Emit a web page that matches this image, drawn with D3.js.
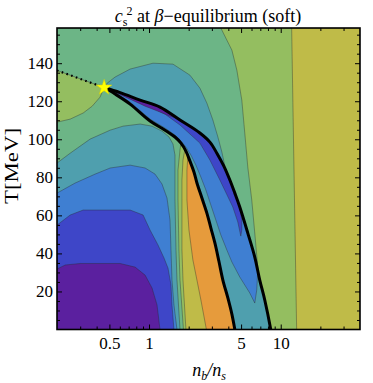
<!DOCTYPE html>
<meta charset="utf-8">
<style>
body { margin: 0; background: #fff; }
text { font-family: "Liberation Serif", "Times New Roman", serif; }
.band { stroke: #2b2b2b; stroke-opacity: 0.55; stroke-width: 0.7; stroke-linejoin: round; }
.domain { display: none; }
</style>
<svg width="373" height="383"></svg>
<script src="https://d3js.org/d3.v7.min.js"></script>
<script>

// colour of each c_s^2 level, lowest first
var levelColors = ["#5b209f", "#3e46c8", "#3f7fd2", "#4f9fae", "#6cb586", "#94be60", "#bfbb48", "#e69b3c"];

var xMajor = [0.5, 1, 5, 10];
var xMinor = [0.3, 0.4, 0.6, 0.7, 0.8, 0.9, 2, 3, 4, 6, 7, 8, 9, 20, 30];
var yMajor = [20, 40, 60, 80, 100, 120, 140];
var yMinor = [5, 10, 15, 25, 30, 35, 45, 50, 55, 65, 70, 75, 85, 90, 95, 105, 110, 115, 125, 130, 135, 145, 150, 155];

// [n_b/n_s, T]
var critPoint = [0.456, 127.2];
var dottedLine = [[0.2, 136.2], [0.456, 127.2]];
var line1 = [[0.456,127.2],[0.552,123.8],[0.718,118.5],[1.018,109.6],[1.322,104.8],[1.574,101.2],[1.748,98.0],[1.906,93.8],[2.045,88.5],[2.193,82.8],[2.311,77.0],[2.521,69.1],[2.749,61.2],[2.949,53.3],[3.162,45.5],[3.390,36.0],[3.636,26.0],[3.968,16.6],[4.256,8.1],[4.482,0]];
var line2 = [[0.456,127.2],[0.603,124.5],[0.855,120.6],[1.211,116.9],[1.718,110.1],[2.433,103.3],[2.898,98.5],[3.274,92.7],[3.700,85.9],[4.109,78.6],[4.482,71.7],[4.887,64.4],[5.623,50.7],[6.353,38.1],[6.930,26.0],[7.565,15.5],[8.400,0]];

// contour boundaries
var b45Right = [[3.51,158.5],[3.83,153.2],[4.256,146.9],[4.642,136.4],[5.064,120.6],[5.333,103.3],[5.623,85.4],[6.026,68.1],[6.353,50.7],[6.693,32.8],[6.930,26.0]];
var b56Right = [[12.11,158.5],[12.54,94.3],[13.21,0]];
var pocket5 = [[0.2,136.2],[0.456,127.2],[0.425,122.2],[0.370,117.4],[0.316,113.8],[0.252,110.6],[0.2,109.0]];
var b34Top = [[0.456,127.2],[0.481,129.5],[0.552,132.7],[0.718,136.9],[1.072,140.0],[1.520,139.5],[2.045,133.7],[2.433,126.9],[2.749,119.0],[3.054,110.1],[3.333,101.2],[3.573,93.3],[3.765,85.9]];
var b34 = [[0.2,87.5],[0.252,92.7],[0.357,100.1],[0.507,104.8],[0.635,106.9],[0.855,108.0],[1.054,106.9],[1.254,104.3],[1.418,101.2],[1.520,97.5],[1.574,91.7],[1.574,68.1],[1.602,41.8],[1.630,26.0],[1.718,0]];
var b23 = [[0.2,71.7],[0.275,77.0],[0.390,81.7],[0.507,84.9],[0.718,86.4],[0.933,84.9],[1.110,81.7],[1.254,76.5],[1.369,69.1],[1.443,57.5],[1.468,41.8],[1.494,26.0],[1.546,12.9],[1.630,0]];
var b12 = [[0.2,54.9],[0.252,60.2],[0.316,62.8],[0.718,62.8],[0.901,60.2],[1.018,52.3],[1.170,44.4],[1.299,37.6],[1.393,32.3],[1.468,23.4],[1.494,12.9],[1.546,0]];
var b01 = [[0.2,31.8],[0.231,33.9],[0.300,34.7],[0.603,34.7],[0.783,32.8],[0.933,28.6],[1.054,21.8],[1.150,12.9],[1.211,0]];
var b45Fan = [[1.748,98.0],[1.718,94.3],[1.659,83.8],[1.659,68.1],[1.687,41.8],[1.718,26.0],[1.825,0]];
var b56Fan = [[1.874,94.8],[1.810,89.1],[1.778,78.6],[1.778,68.1],[1.778,41.8],[1.810,26.0],[1.906,0]];
var b67Fan = [[1.975,91.7],[1.940,83.8],[1.940,68.1],[2.010,52.3],[2.154,36.5],[2.311,26.0],[2.477,15.5],[2.727,0]];
var wedgeBlueEdge = [[6.693,31.3],[6.577,20.8],[6.353,13.9],[5.821,19.2],[4.887,27.6],[4.256,35.5],[3.899,41.8],[3.510,49.7],[3.218,57.5],[2.949,65.4],[2.703,73.3],[2.477,80.1],[2.270,86.4],[2.080,91.7],[1.906,95.9],[1.748,99.1],[1.574,102.2],[1.322,105.9],[1.018,110.6],[0.718,119.5],[0.552,124.3]];
var wedgeIndigoEdge = [[5.064,57.5],[5.064,52.3],[4.974,49.1],[4.722,56.5],[4.326,64.4],[3.450,78.6],[2.898,89.1],[2.433,98.0],[1.718,107.5],[1.322,113.2],[0.933,118.5],[0.658,122.7],[0.507,125.9]];
var wedgePurple = [[0.525,125.3],[0.603,124.5],[0.855,120.6],[1.211,116.9],[1.659,110.8],[1.443,112.2],[1.211,114.3],[0.933,117.4],[0.718,121.1],[0.582,124.0]];

var svg = d3.select("svg");
var plotL = 57, plotR = 360, plotT = 28, plotB = 329.5;

var x = d3.scaleLog().domain([0.2, 40]).range([plotL, plotR]);
var y = d3.scaleLinear().domain([0, 158.5]).range([plotB, plotT]);

svg.append("clipPath").attr("id", "plot")
  .append("rect").attr("x", plotL).attr("y", plotT).attr("width", plotR - plotL).attr("height", plotB - plotT);

var path = d3.line().x(function(d) { return x(d[0]); }).y(function(d) { return y(d[1]); });
var smooth = d3.line().curve(d3.curveCatmullRom.alpha(0.5))
  .x(function(d) { return x(d[0]); }).y(function(d) { return y(d[1]); });

function above(pts, t) { return pts.filter(function(p) { return p[1] > t; }); }
function below(pts, t) { return pts.filter(function(p) { return p[1] < t; }); }

// painted in order, each one on top of the last
var regions = [
  [4, [[0.2,0],[40,0],[40,158.5],[0.2,158.5]]],
  [5, b45Right.concat(below(line2, 26), [[40,0],[40,158.5]])],
  [6, b56Right.concat([[40,0],[40,158.5]])],
  [5, pocket5],
  [3, b34Top.concat(above(line2, 85.9).reverse())],
  [3, b34.concat([[0.2,0]])],
  [2, b23.concat([[0.2,0]])],
  [1, b12.concat([[0.2,0]])],
  [0, b01.concat([[0.2,0]])],
  [5, b45Fan.concat(below(line1, b45Fan[0][1]).reverse())],
  [6, b56Fan.concat(below(line1, b56Fan[0][1]).reverse())],
  [7, b67Fan.concat(below(line1, b67Fan[0][1]).reverse())],
  [3, line1.concat(line2.slice().reverse())],
  [2, above(line2, 31.3).concat(wedgeBlueEdge)],
  [1, above(line2, 64).concat(wedgeIndigoEdge)],
  [0, wedgePurple]
];

var plot = svg.append("g").attr("clip-path", "url(#plot)");

plot.selectAll(".band")
  .data(regions)
  .enter().append("path")
    .attr("class", "band")
    .attr("d", function(d) { return path(d[1]) + "Z"; })
    .attr("fill", function(d) { return levelColors[d[0]]; });

plot.selectAll(".thick")
  .data([line1, line2])
  .enter().append("path")
    .attr("class", "thick")
    .attr("d", smooth)
    .attr("fill", "none")
    .attr("stroke", "#000")
    .attr("stroke-width", 3)
    .attr("stroke-linecap", "round");

plot.append("path")
    .attr("d", path(dottedLine))
    .attr("fill", "none")
    .attr("stroke", "#000")
    .attr("stroke-width", 2.2)
    .attr("stroke-dasharray", "1.6,3.4");

plot.append("path")
    .attr("d", d3.symbol(d3.symbolStar).size(75))
    .attr("transform", "translate(" + x(critPoint[0]) + "," + y(critPoint[1]) + ")")
    .attr("fill", "#ffff00")
    .attr("stroke", "#d8cc00")
    .attr("stroke-width", 0.5);

// frame ticks, pointing inward on all four sides
function fmt(d) { return d; }
function styleAxis(g) {
  g.attr("font-size", 17).attr("font-family", "Liberation Serif, serif");
  g.selectAll(".tick line").attr("stroke", "#000").attr("stroke-width", 1);
}

svg.append("g").attr("transform", "translate(0," + plotB + ")")
  .call(d3.axisBottom(x).tickValues(xMajor).tickSize(-5).tickPadding(7).tickFormat(fmt)).call(styleAxis);
svg.append("g").attr("transform", "translate(0," + plotB + ")")
  .call(d3.axisBottom(x).tickValues(xMinor).tickSize(-3).tickFormat("")).call(styleAxis);
svg.append("g").attr("transform", "translate(0," + plotT + ")")
  .call(d3.axisTop(x).tickValues(xMajor).tickSize(-5).tickFormat("")).call(styleAxis);
svg.append("g").attr("transform", "translate(0," + plotT + ")")
  .call(d3.axisTop(x).tickValues(xMinor).tickSize(-3).tickFormat("")).call(styleAxis);

svg.append("g").attr("transform", "translate(" + plotL + ",0)")
  .call(d3.axisLeft(y).tickValues(yMajor).tickSize(-5).tickPadding(4).tickFormat(fmt)).call(styleAxis);
svg.append("g").attr("transform", "translate(" + plotL + ",0)")
  .call(d3.axisLeft(y).tickValues(yMinor).tickSize(-3).tickFormat("")).call(styleAxis);
svg.append("g").attr("transform", "translate(" + plotR + ",0)")
  .call(d3.axisRight(y).tickValues(yMajor).tickSize(-5).tickFormat("")).call(styleAxis);
svg.append("g").attr("transform", "translate(" + plotR + ",0)")
  .call(d3.axisRight(y).tickValues(yMinor).tickSize(-3).tickFormat("")).call(styleAxis);

svg.append("rect")
    .attr("x", plotL).attr("y", plotT)
    .attr("width", plotR - plotL).attr("height", plotB - plotT)
    .attr("fill", "none")
    .attr("stroke", "#000")
    .attr("stroke-width", 1.6);

// title
var title = svg.append("text")
    .attr("x", 208).attr("y", 22)
    .attr("text-anchor", "middle")
    .attr("font-size", 18);
title.append("tspan").attr("font-style", "italic").text("c");
title.append("tspan").attr("font-size", 12).attr("dy", 4).text("s");
title.append("tspan").attr("font-size", 12).attr("dy", -11).attr("dx", -1).text("2");
title.append("tspan").attr("dy", 7).text(" at ");
title.append("tspan").attr("font-style", "italic").text("β");
title.append("tspan").text("−equilibrium (soft)");

// axis labels
var xl = svg.append("text")
    .attr("x", 209).attr("y", 376)
    .attr("text-anchor", "middle")
    .attr("font-size", 18)
    .attr("font-style", "italic");
xl.append("tspan").text("n");
xl.append("tspan").attr("font-size", 12).attr("dy", 4).text("b");
xl.append("tspan").attr("dy", -4).text("/n");
xl.append("tspan").attr("font-size", 12).attr("dy", 4).text("s");

svg.append("text")
    .attr("transform", "translate(18,166) rotate(-90)")
    .attr("text-anchor", "middle")
    .attr("font-size", 19)
    .attr("textLength", 76)
    .attr("lengthAdjust", "spacingAndGlyphs")
    .text("T[MeV]");

</script>
